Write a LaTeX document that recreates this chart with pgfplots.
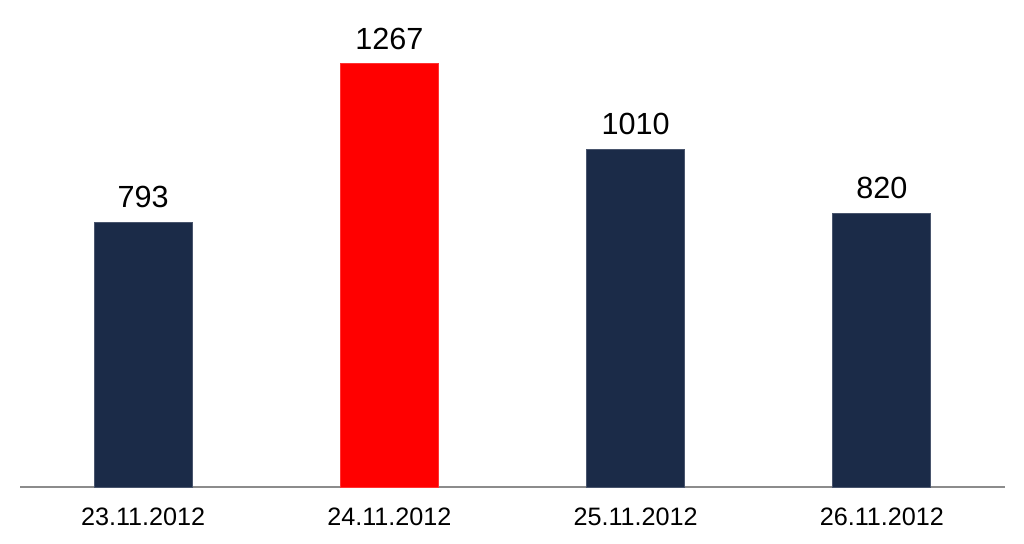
\documentclass[border=0pt]{standalone}
\usepackage{pgfplots}
\pgfplotsset{compat=1.18}
\usepackage{fontspec}
\setmainfont{Liberation Sans}
\definecolor{navy}{HTML}{1B2B48}
\definecolor{barred}{HTML}{FF0000}
\begin{document}
\begin{tikzpicture}
\useasboundingbox (0,0) rectangle (512pt,271.5pt);
\begin{axis}[
  at={(10pt,28pt)}, anchor=south west,
  scale only axis, width=492.5pt, height=233.8pt,
  xmin=-0.5, xmax=3.5, ymin=0, ymax=1400,
  axis y line=none,
  axis x line=bottom,
  x axis line style={-, draw=gray!90, line width=1pt},
  xtick={0,1,2,3},
  xticklabels={23.11.2012,24.11.2012,25.11.2012,26.11.2012},
  major tick length=0pt,
  xticklabel style={font=\fontsize{12.6}{14}\selectfont, inner sep=0pt, anchor=north, yshift=-10pt},
  /pgf/number format/assume math mode=true,
  /pgf/number format/1000 sep={},
  ybar, bar width=49pt,
  nodes near coords,
  every node near coord/.append style={font=\fontsize{15.3}{17}\selectfont, inner sep=0pt, anchor=south, yshift=7pt, text=black},
  clip=false,
]
\addplot[bar shift=0pt, fill=navy, draw=navy!80!white, line width=0.5pt] coordinates {(0,793) (2,1010) (3,820)};
\addplot[bar shift=0pt, fill=barred, draw=barred!80!white, line width=0.5pt] coordinates {(1,1267)};
\end{axis}
\end{tikzpicture}
\end{document}
